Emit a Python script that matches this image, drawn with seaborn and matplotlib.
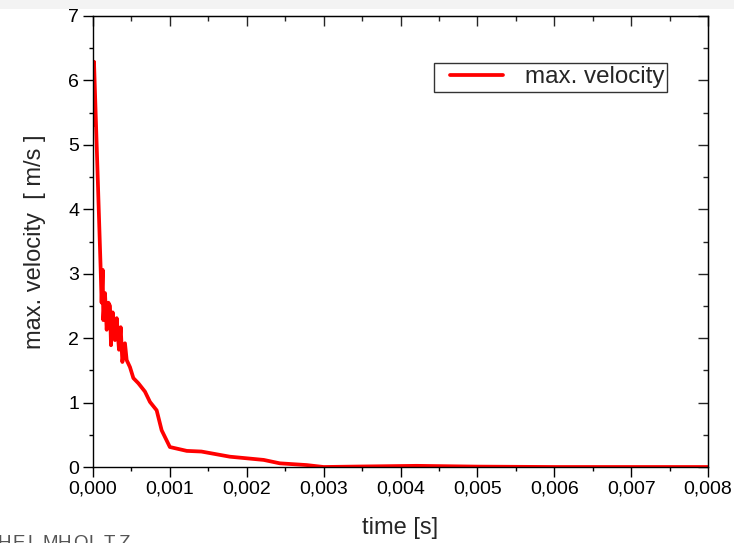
import matplotlib
matplotlib.use("Agg")
import matplotlib.pyplot as plt
from matplotlib.patches import Rectangle
from matplotlib.lines import Line2D
from matplotlib.legend_handler import HandlerLine2D
from matplotlib.ticker import MultipleLocator, FuncFormatter
import seaborn as sns
import pandas as pd

# simulated peak velocity over time
time_s = [0.0000, 0.000013, 0.0001, 0.000112, 0.000126, 0.000134, 0.000156, 0.000178,
          0.0002, 0.000221, 0.000234, 0.000256, 0.000286, 0.000308, 0.000338,
          0.00036, 0.000382, 0.000416, 0.000438, 0.000481, 0.000525, 0.00059,
          0.000676, 0.000741, 0.000828, 0.000893, 0.001, 0.00122, 0.00141,
          0.00178, 0.00222, 0.00243, 0.00278, 0.0030, 0.0035, 0.00421,
          0.0050, 0.0060, 0.0070, 0.0080]
max_velocity = [5.3, 6.29, 3.06, 2.55, 3.06, 2.28, 2.70, 2.13,
                2.55, 2.50, 1.89, 2.40, 1.97, 2.31, 1.82,
                2.17, 1.63, 1.92, 1.66, 1.55, 1.38, 1.30,
                1.17, 1.01, 0.88, 0.57, 0.31, 0.25, 0.24,
                0.16, 0.11, 0.057, 0.03, 0.0, 0.008, 0.018,
                0.006, 0.0, 0.0, 0.0]

x_ticks = [0.000, 0.001, 0.002, 0.003, 0.004, 0.005, 0.006, 0.007, 0.008]
y_ticks = [0, 1, 2, 3, 4, 5, 6, 7]

df = pd.DataFrame({"time [s]": time_s, "max. velocity": max_velocity})

sns.set_style("ticks")
plt.rcParams["font.family"] = ["Liberation Sans", "DejaVu Sans"]

fig = plt.figure(figsize=(7.34, 5.43), dpi=100)
ax = fig.add_axes([93 / 734, 76 / 543, 615 / 734, 451 / 543])

# light strip along the top edge
fig.patches.append(Rectangle((0, 1 - 9 / 543), 1, 9 / 543, transform=fig.transFigure,
                             facecolor="#f3f3f3", edgecolor="none", zorder=-1))

sns.lineplot(data=df, x="time [s]", y="max. velocity", ax=ax, color="#ff0000",
             linewidth=2.7, label="max. velocity", sort=False)

ax.set_xlim(0, 0.008)
ax.set_ylim(0, 7)
ax.set_xticks(x_ticks)
ax.set_yticks(y_ticks)
ax.xaxis.set_minor_locator(MultipleLocator(0.0005))
ax.yaxis.set_minor_locator(MultipleLocator(0.5))
ax.xaxis.set_major_formatter(FuncFormatter(lambda v, p: f"{v:.3f}".replace(".", ",")))

for s in ax.spines.values():
    s.set_visible(True)
    s.set_linewidth(1.0)
    s.set_color("black")

ax.tick_params(which="both", direction="out", top=False, right=False,
               labelsize=14, colors="black", width=1.0, pad=3)
ax.tick_params(which="major", length=7)
ax.tick_params(which="minor", length=3.2)

# mirrored inward ticks on top and right
axt = ax.secondary_xaxis("top")
axt.set_xticks(x_ticks)
axt.xaxis.set_minor_locator(MultipleLocator(0.0005))
axt.tick_params(which="both", direction="in", labeltop=False, width=1.0)
axt.tick_params(which="major", length=7)
axt.tick_params(which="minor", length=3.5)
axr = ax.secondary_yaxis("right")
axr.set_yticks(y_ticks)
axr.yaxis.set_minor_locator(MultipleLocator(0.5))
axr.tick_params(which="both", direction="in", labelright=False, width=1.0)
axr.tick_params(which="major", length=7)
axr.tick_params(which="minor", length=3.5)

ax.set_xlabel("time [s]", fontsize=17, labelpad=14)
ax.set_ylabel("max. velocity  [ m/s ]", fontsize=17, labelpad=16)

# legend with the sample line inset from the frame's left edge
leg = ax.legend(loc="upper right", bbox_to_anchor=(0.934, 0.8958), fontsize=17.4,
                frameon=True, fancybox=False, handlelength=2.72, handletextpad=0.9,
                borderpad=0.14, borderaxespad=0,
                handler_map={Line2D: HandlerLine2D(xpad=0.55)})
leg.get_frame().set_edgecolor("black")
leg.get_frame().set_linewidth(1.0)

# institute wordmark at the lower-left edge
for i, ch in enumerate("HELMHOLTZ"):
    fig.text((-3 + i * 15.2) / 734, 7.5 / 543, ch, fontsize=13.5, color="#555555",
             va="top", ha="left")

fig.savefig("out.png", dpi=100)
